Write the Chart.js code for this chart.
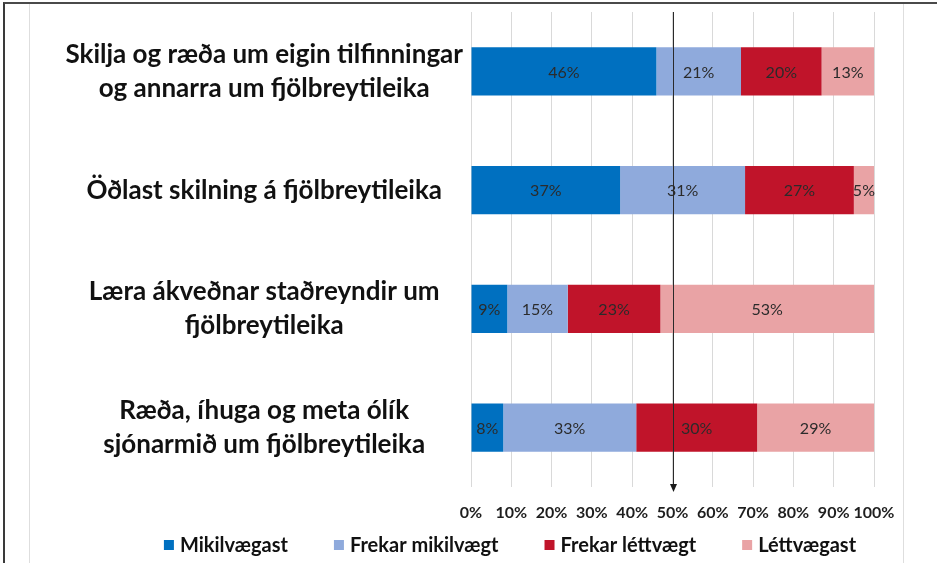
<!DOCTYPE html>
<html>
<head>
<meta charset="utf-8">
<script src="https://cdn.jsdelivr.net/npm/chart.js@4.4.1/dist/chart.umd.min.js"></script>
<style>
  html, body { margin: 0; padding: 0; background: #fff; }
  #wrap { position: relative; width: 937px; height: 563px; overflow: hidden; }
  #frame { position: absolute; left: 3px; top: 2px; right: -5px; bottom: -5px;
           border-top: 2px solid #4a4a4a; border-left: 2px solid #3a3a3a; }
  #inner { position: absolute; left: 29px; top: 4px; width: 873px; bottom: 0;
           border-left: 1px solid #dedede; border-right: 1px solid #dedede; }
  canvas { position: absolute; left: 0; top: 0; }
</style>
</head>
<body>
<div id="wrap">
  <div id="frame"></div>
  <div id="inner"></div>
  <canvas id="chart" width="937" height="563"></canvas>
</div>
<script>
// categories (each one split into lines as in the picture)
const categories = [
  ["Skilja og ræða um eigin tilfinningar", "og annarra um fjölbreytileika"],
  ["Öðlast skilning á fjölbreytileika"],
  ["Læra ákveðnar staðreyndir um", "fjölbreytileika"],
  ["Ræða, íhuga og meta ólík", "sjónarmið um fjölbreytileika"]
];

// series values, percent
const mikilvaegast = [46, 37, 9, 8];
const frekarMikilvaegt = [21, 31, 15, 33];
const frekarLettvaegt = [20, 27, 23, 30];
const lettvaegast = [13, 5, 53, 29];

const seriesNames = ["Mikilvægast", "Frekar mikilvægt", "Frekar léttvægt", "Léttvægast"];
const seriesColors = ["#0070C0", "#8FAADC", "#C0142A", "#E9A3A5"];

// x axis ticks
const xTicks = [0, 10, 20, 30, 40, 50, 60, 70, 80, 90, 100];
const markerValue = 50;

const seriesValues = [mikilvaegast, frekarMikilvaegt, frekarLettvaegt, lettvaegast];

// labels inside the bars
const barLabels = {
  id: "barLabels",
  afterDatasetsDraw(chart) {
    const ctx = chart.ctx;
    ctx.save();
    ctx.font = "16px Lato";
    ctx.fillStyle = "#2b2b2b";
    ctx.textAlign = "center";
    ctx.textBaseline = "middle";
    chart.data.datasets.forEach((ds, i) => {
      chart.getDatasetMeta(i).data.forEach((bar, j) => {
        ctx.fillText(ds.data[j] + "%", (bar.x + bar.base) / 2, bar.y + 1);
      });
    });
    ctx.restore();
  }
};

// the line with an arrow at 50%
const markerLine = {
  id: "markerLine",
  afterDraw(chart) {
    const ctx = chart.ctx;
    const area = chart.chartArea;
    const x = Math.round(chart.scales.x.getPixelForValue(markerValue)) + 0.5;
    ctx.save();
    ctx.strokeStyle = "#2a2a2a";
    ctx.lineWidth = 1;
    ctx.beginPath();
    ctx.moveTo(x, area.top);
    ctx.lineTo(x, area.bottom - 1);
    ctx.stroke();
    ctx.fillStyle = "#1a1a1a";
    ctx.beginPath();
    ctx.moveTo(x - 3.5, area.bottom - 3);
    ctx.lineTo(x + 3.5, area.bottom - 3);
    ctx.lineTo(x, area.bottom + 5);
    ctx.closePath();
    ctx.fill();
    ctx.restore();
  }
};

// legend row under the axis, items spaced wider than the built-in legend allows
const legendRow = {
  id: "legendRow",
  afterDraw(chart, args, opts) {
    const ctx = chart.ctx;
    ctx.save();
    ctx.font = "bold 20px Lato";
    ctx.textBaseline = "middle";
    ctx.textAlign = "left";
    const box = 10, gap = 6;
    const items = chart.data.datasets.map((ds) => ({
      text: ds.label,
      color: ds.backgroundColor,
      w: ctx.measureText(ds.label).width
    }));
    const total = items.reduce((s, it) => s + box + gap + it.w, 0) + opts.spacing * (items.length - 1);
    let x = opts.centerX - total / 2;
    items.forEach((it) => {
      ctx.fillStyle = it.color;
      ctx.fillRect(x, opts.y - box / 2, box, box);
      ctx.fillStyle = "#111";
      ctx.fillText(it.text, x + box + gap, opts.y + 1);
      x += box + gap + it.w + opts.spacing;
    });
    ctx.restore();
  }
};

const ctx = document.getElementById("chart").getContext("2d");
const chart = new Chart(ctx, {
  type: "bar",
  data: {
    labels: categories,
    datasets: seriesNames.map((name, i) => ({
      label: name,
      data: seriesValues[i],
      backgroundColor: seriesColors[i],
      borderWidth: 0,
      categoryPercentage: 1,
      barPercentage: 0.405
    }))
  },
  options: {
    indexAxis: "y",
    responsive: false,
    animation: false,
    layout: { padding: { left: 21, right: 63, top: 12, bottom: 40 } },
    scales: {
      x: {
        stacked: true,
        min: 0,
        max: 100,
        afterBuildTicks(axis) {
          axis.ticks = xTicks.map((v) => ({ value: v }));
        },
        afterFit(axis) {
          axis.height = 36;
        },
        grid: { color: "#d9d9d9", lineWidth: 1, drawTicks: false },
        border: { display: false },
        ticks: {
          padding: 16,
          autoSkip: false,
          maxRotation: 0,
          minRotation: 0,
          color: "#1e1e1e",
          font: { family: "Lato", size: 16, weight: "bold" },
          callback: (v) => v + "%"
        }
      },
      y: {
        stacked: true,
        afterFit(axis) {
          axis.width = 450;
          axis.paddingTop = 0;
          axis.paddingBottom = 0;
        },
        grid: { display: false, drawTicks: false },
        border: { display: false },
        ticks: {
          crossAlign: "center",
          padding: 8,
          color: "#111",
          font: { family: "Lato", size: 26, weight: "bold", lineHeight: 1.3 }
        }
      }
    },
    plugins: {
      legend: { display: false },
      tooltip: { enabled: false },
      legendRow: { centerX: 510, y: 545, spacing: 46 }
    }
  },
  plugins: [barLabels, markerLine, legendRow]
});
</script>
</body>
</html>
